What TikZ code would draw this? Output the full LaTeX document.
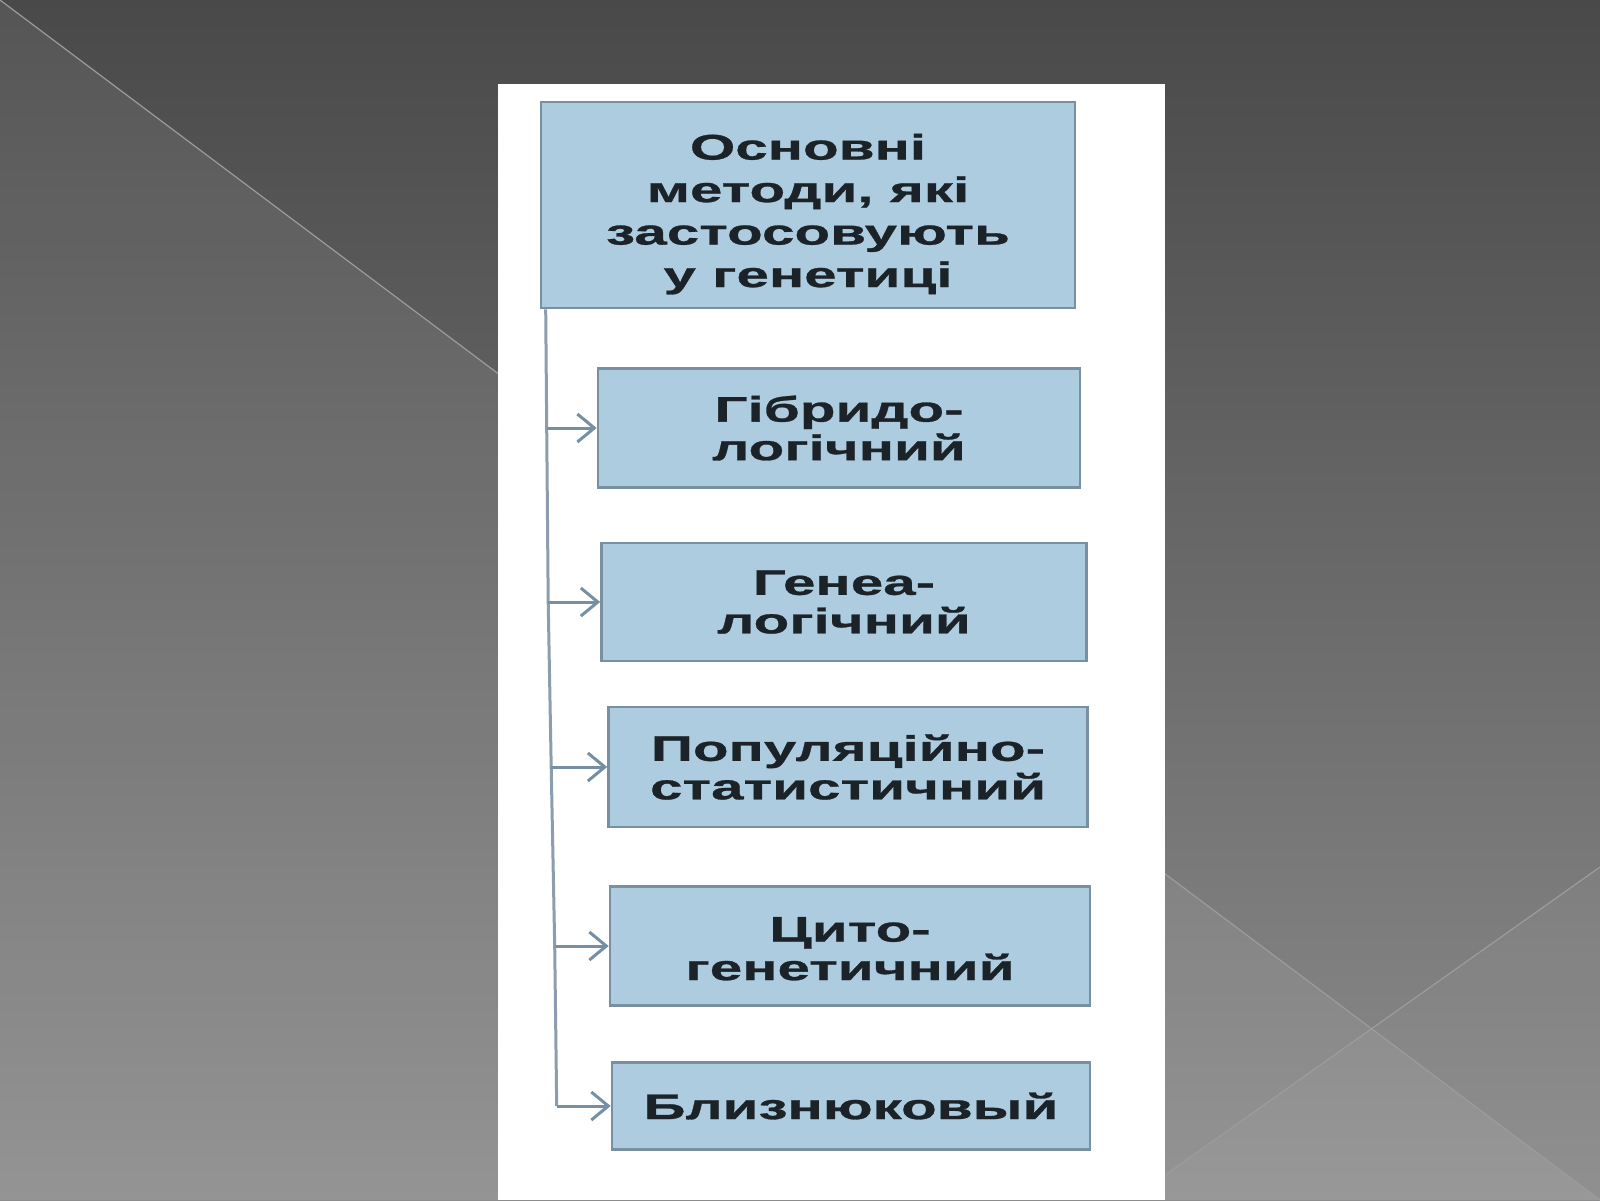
\documentclass[tikz,border=0pt]{standalone}
\usepackage{fontspec}
\newfontfamily\boxfont{Liberation Sans}[FakeStretch=1.64,FakeBold=0.8]
\usetikzlibrary{arrows.meta,calc}
\definecolor{bgtop}{HTML}{494949}
\definecolor{bgmid}{HTML}{5C5C5C}
\definecolor{bgbot}{HTML}{8C8C8C}
\definecolor{bgline}{HTML}{9C9C9C}
\definecolor{boxfill}{HTML}{ADCCE0}
\definecolor{boxedge}{HTML}{78909F}
\definecolor{txt}{HTML}{1B2328}
\definecolor{trunkc}{HTML}{8C9EAD}
\definecolor{arrc}{HTML}{7590A5}
\tikzset{
  mbox/.style={draw=boxedge, line width=2.6pt, fill=boxfill, text=txt,
    align=center, inner sep=0pt,
    font=\boxfont\bfseries\fontsize{35.6}{38.5}\selectfont},
  headbox/.style={mbox, font=\boxfont\bfseries\fontsize{35.6}{42.5}\selectfont},
  trunk/.style={draw=trunkc, line width=3pt, line join=round},
  arr/.style={draw=arrc, line width=3pt,
    -{Straight Barb[length=17pt,width=28pt,line width=3pt]}},
  bgl/.style={draw=bgline, line width=1.2pt}
}
\begin{document}
\begin{tikzpicture}[x=1pt,y=-1pt]
\useasboundingbox (0,0) rectangle (1600,1200);
% background
\shade[top color=bgtop, middle color=bgmid, bottom color=bgbot] (0,0) rectangle (1600,1200);
\fill[white, opacity=0.07] (0,0) -- (1600,1200) -- (0,1200) -- cycle;
\fill[white, opacity=0.04] (1600,867) -- (1165,1175) -- (1165,1200) -- (1600,1200) -- cycle;
\draw[bgl] (0,0) -- (1600,1200);
\draw[bgl] (1600,867) -- (1165,1175);
% panel
\fill[white] (498,84) rectangle (1165,1200);
% boxes
\node[headbox, minimum width=534pt, minimum height=206pt] (head) at (808,205)
  {\rule{0pt}{44pt}Основні\\методи, які\\застосовують\\у генетиці};
\node[mbox, minimum width=482pt, minimum height=119pt] (b1) at (839,428)
  {Гібридо-\\логічний};
\node[mbox, minimum width=485pt, minimum height=118pt] (b2) at (844,602)
  {Генеа-\\логічний};
\node[mbox, minimum width=479pt, minimum height=120pt] (b3) at (848,767)
  {Популяційно-\\статистичний};
\node[mbox, minimum width=480pt, minimum height=119pt] (b4) at (850,946)
  {\rule{0pt}{30pt}Цито-\\генетичний};
\node[mbox, minimum width=478pt, minimum height=87pt] (b5) at (851,1106)
  {Близнюковый};
% trunk
\coordinate (t0) at ($(head.south west)+(6,0)$);
\coordinate (t1) at ($(b1.west)+(-50,0)$);
\coordinate (t2) at ($(b2.west)+(-52,0)$);
\coordinate (t3) at ($(b3.west)+(-56,0)$);
\coordinate (t4) at ($(b4.west)+(-54,0)$);
\coordinate (t5) at ($(b5.west)+(-54,0)$);
\draw[trunk] (t0) -- (t1) -- (t2) -- (t3) -- (t4) -- (t5);
\draw[arr] (t1) -- (b1.west);
\draw[arr] (t2) -- (b2.west);
\draw[arr] (t3) -- (b3.west);
\draw[arr] (t4) -- (b4.west);
\draw[arr] (t5) -- (b5.west);
\end{tikzpicture}
\end{document}
